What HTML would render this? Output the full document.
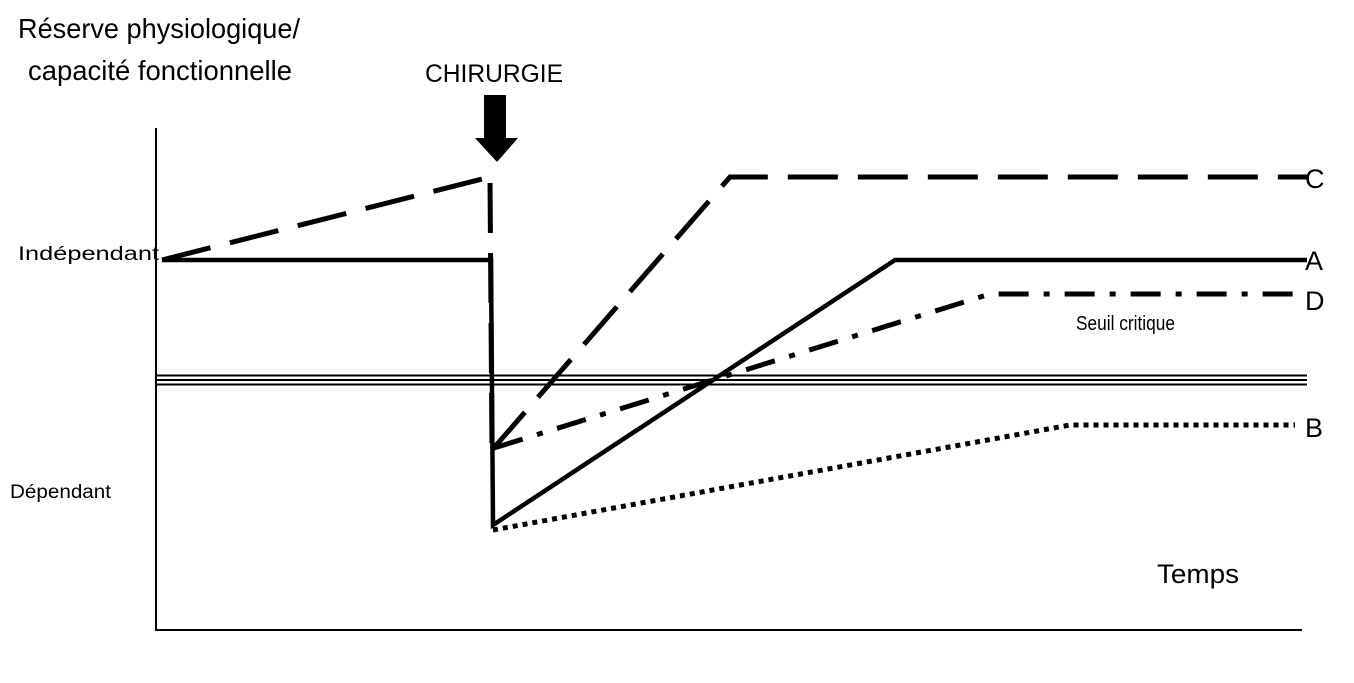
<!DOCTYPE html>
<html><head><meta charset="utf-8"><style>html,body{margin:0;padding:0;background:#fff}svg{display:block}</style></head>
<body>
<svg width="1354" height="683" viewBox="0 0 1354 683" xmlns="http://www.w3.org/2000/svg" font-family="Liberation Sans, sans-serif" fill="#000">
<text x="18" y="38" font-size="28" textLength="282" lengthAdjust="spacingAndGlyphs">Réserve physiologique/</text>
<text x="28" y="80" font-size="28" textLength="264" lengthAdjust="spacingAndGlyphs">capacité fonctionnelle</text>
<text x="425" y="82" font-size="25" textLength="138" lengthAdjust="spacingAndGlyphs">CHIRURGIE</text>
<text x="18" y="260" font-size="19" textLength="141" lengthAdjust="spacingAndGlyphs">Indépendant</text>
<text x="10" y="498" font-size="19" textLength="101" lengthAdjust="spacingAndGlyphs">Dépendant</text>
<text x="1157" y="583" font-size="27" textLength="82" lengthAdjust="spacingAndGlyphs">Temps</text>
<text x="1076" y="330" font-size="20" textLength="99" lengthAdjust="spacingAndGlyphs">Seuil critique</text>
<text x="1305" y="188" font-size="27">C</text>
<text x="1305" y="270" font-size="27">A</text>
<text x="1305" y="310" font-size="27">D</text>
<text x="1305" y="437" font-size="27">B</text>
<polygon points="484,95 506,95 506,138 518,138 497,162 475,138 484,138"/>
<g stroke="#000" fill="none">
<line x1="156" y1="128" x2="156" y2="630" stroke-width="2"/>
<line x1="155" y1="630" x2="1302" y2="630" stroke-width="2"/>
<line x1="156" y1="375.5" x2="1307" y2="375.5" stroke-width="2"/>
<line x1="156" y1="380" x2="1307" y2="380" stroke-width="2"/>
<line x1="156" y1="384.5" x2="1307" y2="384.5" stroke-width="2"/>
<polyline points="162,260 491,260 493,525 895,260 1307,260" stroke-width="4.5" stroke-linejoin="miter"/>
<polyline points="162,260 490,177" stroke-width="5" stroke-dasharray="50,20"/>
<polyline points="490,178 492,450" stroke-width="5" stroke-dasharray="50,20" stroke-dashoffset="-5"/>
<polyline points="492,450 730,177 1307,177" stroke-width="5" stroke-dasharray="50,20"/>
<polyline points="494,448 990,294 1307,294" stroke-width="5" stroke-dasharray="30,15,6,15"/>
<polyline points="493,530 1070,425 1295,425" stroke-width="5" stroke-dasharray="5,5"/>
</g>
</svg>
</body></html>
